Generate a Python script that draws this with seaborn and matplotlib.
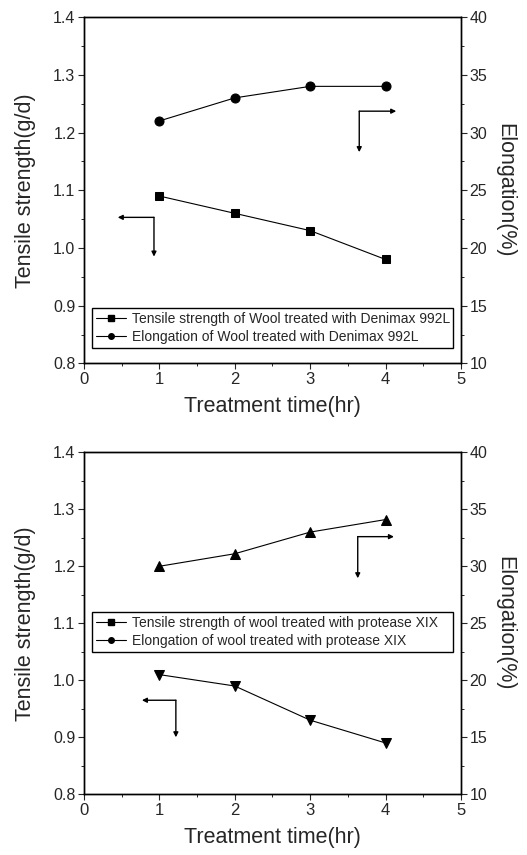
import matplotlib
matplotlib.use('Agg')
import matplotlib.pyplot as plt
import seaborn as sns
import pandas as pd
from matplotlib.lines import Line2D
from matplotlib.ticker import MultipleLocator, FormatStrFormatter

sns.set_style('ticks')
plt.rcParams['font.family'] = ['Liberation Sans', 'DejaVu Sans']

# --- data ---
hours = [1, 2, 3, 4]

# top panel: Denimax 992L
denimax_strength = [1.09, 1.06, 1.03, 0.98]
denimax_elong = [31.0, 33.0, 34.0, 34.0]

# bottom panel: protease XIX
protease_strength = [1.01, 0.99, 0.93, 0.89]
protease_elong = [30.0, 31.1, 33.0, 34.1]

legend_top = ['Tensile strength of Wool treated with Denimax 992L',
              'Elongation of Wool treated with Denimax 992L']
legend_bottom = ['Tensile strength of wool treated with protease XIX',
                 'Elongation of wool treated with protease XIX']

xlabel = 'Treatment time(hr)'
ylabel_left = 'Tensile strength(g/d)'
ylabel_right = 'Elongation(%)'


def style_axes(ax, ax2):
    ax.set_xlim(0, 5)
    ax.set_ylim(0.8, 1.4)
    ax2.set_ylim(10, 40)
    ax.xaxis.set_major_locator(MultipleLocator(1))
    ax.xaxis.set_minor_locator(MultipleLocator(0.5))
    ax.yaxis.set_major_locator(MultipleLocator(0.1))
    ax.yaxis.set_minor_locator(MultipleLocator(0.05))
    ax2.yaxis.set_major_locator(MultipleLocator(5))
    ax2.yaxis.set_minor_locator(MultipleLocator(2.5))
    ax.yaxis.set_major_formatter(FormatStrFormatter('%.1f'))
    for a in (ax, ax2):
        a.tick_params(which='major', direction='out', length=4, width=0.8,
                      labelsize=11.5, pad=2)
        a.tick_params(which='minor', direction='out', length=2, width=0.7)
        for s in a.spines.values():
            s.set_visible(True)
            s.set_linewidth(1.0)
            s.set_color('black')
    ax.tick_params(axis='x', labelsize=12)
    ax.set_xlabel(xlabel, fontsize=15.5, labelpad=7)
    ax.set_ylabel(ylabel_left, fontsize=15.5, labelpad=12)
    ax2.set_ylabel(ylabel_right, fontsize=15.5, rotation=270, labelpad=20)
    ax.grid(False)
    ax2.grid(False)


def arrow(ax, x0, y0, x1, y1):
    ax.annotate('', xy=(x1, y1), xytext=(x0, y0),
                arrowprops=dict(arrowstyle='-|>', color='black', lw=1.0,
                                mutation_scale=7, shrinkA=0, shrinkB=0))


def draw_panel(rect, strength, elong, m_strength, m_elong, ms_s, ms_e,
               labels, leg_y0, arrows_left, arrows_right):
    ax = fig.add_axes(rect)
    ax2 = ax.twinx()
    df = pd.DataFrame({'hr': hours, 'strength': strength, 'elong': elong})
    sns.lineplot(data=df, x='hr', y='strength', ax=ax, color='black',
                 lw=0.8, marker=m_strength, markersize=ms_s,
                 markeredgecolor='black', markerfacecolor='black')
    sns.lineplot(data=df, x='hr', y='elong', ax=ax2, color='black',
                 lw=0.8, marker=m_elong, markersize=ms_e,
                 markeredgecolor='black', markerfacecolor='black')
    style_axes(ax, ax2)

    # L-shaped pointers to the axis each curve belongs to
    (hx0, hy, hx1), vy1 = arrows_left
    arrow(ax, hx0, hy, hx1, hy)
    arrow(ax, hx0, hy, hx0, vy1)
    (rx0, ry, rx1), rvy1 = arrows_right
    arrow(ax2, rx0, ry, rx1, ry)
    arrow(ax2, rx0, ry, rx0, rvy1)

    handles = [Line2D([], [], color='black', lw=0.8, marker='s', markersize=4),
               Line2D([], [], color='black', lw=0.8, marker='o', markersize=4)]
    leg = ax2.legend(handles, labels, loc='lower left',
                     bbox_to_anchor=(0.021, leg_y0, 0.958, 0.1), mode='expand',
                     fontsize=10, frameon=True, fancybox=False, framealpha=1,
                     edgecolor='black', handlelength=2.2, handletextpad=0.4,
                     borderaxespad=0, labelspacing=0.3, borderpad=0.3)
    leg.get_frame().set_linewidth(1.0)
    return ax, ax2


fig = plt.figure(figsize=(5.27, 8.55), dpi=100)

draw_panel([0.159, 0.575, 0.716, 0.405], denimax_strength, denimax_elong,
           's', 'o', 6, 6.5, legend_top, 0.043,
           ((0.93, 1.053, 0.45), 0.985),
           ((3.65, 31.85, 4.14), 28.3))

draw_panel([0.159, 0.071, 0.716, 0.400], protease_strength, protease_elong,
           'v', '^', 7.5, 7.5, legend_bottom, 0.415,
           ((1.22, 0.965, 0.77), 0.9),
           ((3.63, 32.6, 4.11), 28.95))

fig.savefig('out.png', dpi=100)
